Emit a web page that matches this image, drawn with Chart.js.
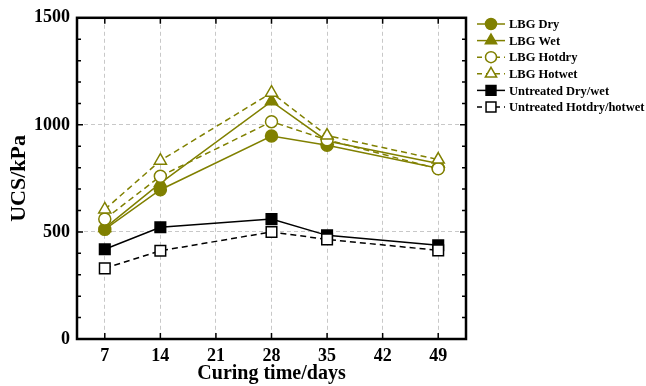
<!DOCTYPE html>
<html>
<head>
<meta charset="utf-8">
<script src="https://cdn.jsdelivr.net/npm/chart.js@4"></script>
<style>
  html, body { margin: 0; padding: 0; background: #fff; }
</style>
</head>
<body>
<canvas id="ucsChart" width="646" height="386"></canvas>
<script>
const curingDays = [7, 14, 28, 35, 49];
const lbgDry = [512, 697, 948, 905, 797];
const lbgWet = [518, 728, 1110, 925, 820];
const lbgHotdry = [560, 760, 1015, 930, 795];
const lbgHotwet = [605, 833, 1150, 950, 838];
const untreatedDryWet = [419, 522, 560, 484, 438];
const untreatedHotdry = [330, 412, 500, 465, 414];

const xTicks = [7, 14, 21, 28, 35, 42, 49];
const yTicks = [0, 500, 1000, 1500];
const yMinorStep = 100;

const OLIVE = '#808000';

function pts(values) {
  return curingDays.map((d, i) => ({ x: d, y: values[i] }));
}

function series(label, values, color, style, radius, filled, dashed) {
  return {
    label: label,
    data: pts(values),
    showLine: true,
    borderColor: color,
    borderWidth: 1.5,
    borderDash: dashed ? [6, 4] : [],
    pointStyle: style,
    pointRadius: radius,
    pointHoverRadius: radius,
    pointBackgroundColor: filled ? color : '#fff',
    pointBorderColor: color,
    pointBorderWidth: 1.5
  };
}

const datasets = [
  series('LBG Dry', lbgDry, OLIVE, 'circle', 6, true, false),
  series('LBG Wet', lbgWet, OLIVE, 'triangle', 7, true, false),
  series('LBG Hotdry', lbgHotdry, OLIVE, 'circle', 6, false, true),
  series('LBG Hotwet', lbgHotwet, OLIVE, 'triangle', 7, false, true),
  series('Untreated Dry/wet', untreatedDryWet, '#000', 'rect', 7.5, true, false),
  series('Untreated Hotdry/hotwet', untreatedHotdry, '#000', 'rect', 7.5, false, true)
];
// later series on top, like the original plot
datasets.forEach((ds, i) => { ds.order = datasets.length - i; });

// box round the plot with inward ticks on all four sides
const frame = {
  id: 'frame',
  afterDraw(chart) {
    const ctx = chart.ctx;
    const a = chart.chartArea;
    const xs = chart.scales.x, ys = chart.scales.y;
    ctx.save();
    ctx.strokeStyle = '#000';
    ctx.lineWidth = 1.5;
    ctx.beginPath();
    xTicks.forEach(v => {
      const px = xs.getPixelForValue(v);
      ctx.moveTo(px, a.bottom); ctx.lineTo(px, a.bottom - 6);
      ctx.moveTo(px, a.top); ctx.lineTo(px, a.top + 6);
    });
    for (let v = 0; v <= 1500; v += yMinorStep) {
      const py = ys.getPixelForValue(v);
      const len = v % 500 === 0 ? 6 : 4;
      ctx.moveTo(a.left, py); ctx.lineTo(a.left + len, py);
      ctx.moveTo(a.right, py); ctx.lineTo(a.right - len, py);
    }
    ctx.stroke();
    ctx.lineWidth = 2.5;
    ctx.strokeRect(a.left, a.top, a.right - a.left, a.bottom - a.top);
    ctx.restore();
  }
};

// Origin-style legend: line sample with the marker in the middle
const sideLegend = {
  id: 'sideLegend',
  afterDraw(chart) {
    const ctx = chart.ctx;
    ctx.save();
    chart.data.datasets.forEach((ds, i) => {
      const y = 24 + i * 16.6;
      ctx.strokeStyle = ds.borderColor;
      ctx.lineWidth = 1.5;
      ctx.setLineDash(ds.borderDash.length ? [5, 4] : []);
      ctx.beginPath();
      ctx.moveTo(477, y);
      ctx.lineTo(505, y);
      ctx.stroke();
      ctx.setLineDash([]);
      ctx.fillStyle = ds.pointBackgroundColor;
      ctx.strokeStyle = ds.pointBorderColor;
      ctx.lineWidth = 1.5;
      Chart.helpers.drawPoint(ctx, {
        pointStyle: ds.pointStyle,
        radius: ds.pointRadius - 0.5,
        rotation: 0,
        borderWidth: 1.5
      }, 491, y);
      ctx.fillStyle = '#000';
      ctx.font = "bold 12.5px 'Liberation Serif', 'Times New Roman', serif";
      ctx.textBaseline = 'middle';
      ctx.textAlign = 'left';
      ctx.fillText(ds.label, 509, y + 1);
    });
    ctx.restore();
  }
};

Chart.defaults.font.family = "'Liberation Serif', 'Times New Roman', serif";
Chart.defaults.color = '#000';

new Chart(document.getElementById('ucsChart'), {
  type: 'scatter',
  data: { datasets: datasets },
  plugins: [frame, sideLegend],
  options: {
    responsive: false,
    animation: false,
    layout: { padding: { top: 17, right: 180, left: 0, bottom: 0 } },
    plugins: {
      legend: { display: false },
      tooltip: { enabled: false }
    },
    scales: {
      x: {
        type: 'linear',
        min: 3.5,
        max: 52.5,
        afterBuildTicks: s => { s.ticks = xTicks.map(v => ({ value: v })); },
        afterFit: s => { s.height = 47; },
        grid: { color: '#c8c8c8', lineWidth: 1, drawTicks: false },
        border: { display: false, dash: [4, 3] },
        ticks: { font: { size: 18, weight: 'bold' }, padding: 7, maxRotation: 0, callback: v => String(v) },
        title: {
          display: true,
          text: 'Curing time/days',
          font: { size: 20, weight: 'bold' },
          padding: { top: 0, bottom: 0 }
        }
      },
      y: {
        min: 0,
        max: 1500,
        afterBuildTicks: s => { s.ticks = yTicks.map(v => ({ value: v })); },
        afterFit: s => { s.width = 77; },
        grid: { color: '#c8c8c8', lineWidth: 1, drawTicks: false },
        border: { display: false, dash: [4, 3] },
        ticks: { font: { size: 18, weight: 'bold' }, padding: 7, callback: v => String(v) },
        title: {
          display: true,
          text: 'UCS/kPa',
          font: { size: 22, weight: 'bold' },
          padding: { top: 6, bottom: 4 }
        }
      }
    }
  }
});
</script>
</body>
</html>
